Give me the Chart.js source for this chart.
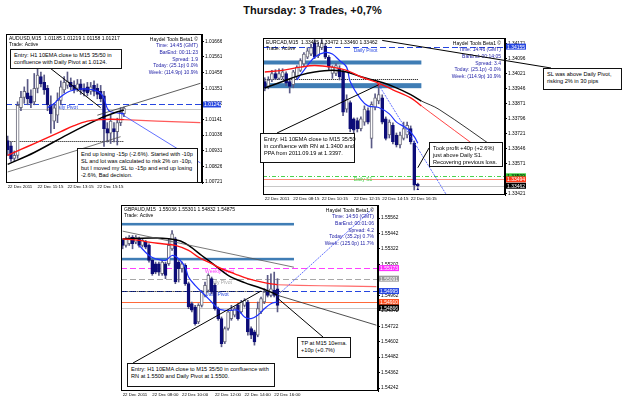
<!DOCTYPE html>
<html>
<head>
<meta charset="utf-8">
<script src="https://cdn.jsdelivr.net/npm/chart.js@4.4.0/dist/chart.umd.min.js"></script>
<style>
  html, body { margin:0; padding:0; background:#fff; }
  body { width:625px; height:400px; position:relative; overflow:hidden; font-family:"Liberation Sans", Arial, sans-serif; }
  #title { position:absolute; left:0; top:4px; width:625px; text-align:center; font:bold 11px "Liberation Sans", Arial, sans-serif; color:#111; }
  canvas.panel { position:absolute; }
  #links { position:absolute; left:0; top:0; z-index:4; pointer-events:none; }
  .note { position:absolute; z-index:5; background:#fff; border:1px solid #111; box-sizing:border-box;
          font:5.6px/7px "Liberation Sans", Arial, sans-serif; color:#000; padding:2px 3px; white-space:nowrap; }
</style>
</head>
<body>
<div id="title">Thursday: 3 Trades, +0,7%</div>

<canvas id="p1" class="panel" width="216" height="160" style="left:6px;top:34px;z-index:1"></canvas>
<canvas id="p2" class="panel" width="268" height="171" style="left:259px;top:34px;z-index:1"></canvas>
<canvas id="p3" class="panel" width="279" height="195" style="left:121px;top:205px;z-index:2"></canvas>
<canvas id="links" width="625" height="400"></canvas>

<div class="note" style="left:10px;top:49px;width:112px;height:20px">Entry: H1 10EMA close to M15 35/50 in<br>confluence with Daily Pivot at 1.0124.</div>
<div class="note" style="left:77px;top:148px;width:121px;height:35px">End up losing -15p (-2.6%). Started with -10p<br>SL and lot was calculated to risk 2% on -10p,<br>but I moved my SL to -15p and end up losing<br>-2.6%, Bad decision.</div>
<div class="note" style="left:260px;top:133px;width:95px;height:30px">Entry: H1 10EMA close to M15 35/50<br>in confluence with RN at 1.3400 and<br>PPA from 2011.09.19 at 1.3397.</div>
<div class="note" style="left:429px;top:142px;width:74px;height:25px">Took profit +40p (+2.6%)<br>just above Daily S1.<br>Recovering previous loss.</div>
<div class="note" style="left:543px;top:68px;width:79px;height:22px">SL was above Daily Pivot,<br>risking 2% in 30 pips</div>
<div class="note" style="left:127px;top:363px;width:148px;height:24px">Entry: H1 10EMA close to M15 35/50 in confluence with<br>RN at 1.5500 and Daily Pivot at 1.5500.</div>
<div class="note" style="left:297px;top:337px;width:54px;height:21px">TP at M15 10ema.<br>+10p (+0.7%)</div>

<script>
// ---------- AUDUSD M15 ----------
const p1Slots = 59;
const p1XTickIdx = [0, 9, 18, 27];
const p1XTickText = ['22 Dec 2011', '22 Dec 11:15', '22 Dec 13:15', '22 Dec 15:15'];
const p1YTicks = [1.00721, 1.00826, 1.00931, 1.01036, 1.01141, 1.01246, 1.01351, 1.01456, 1.01561, 1.01666];
const p1Open  = [1.01000,1.00965,1.00880,1.00900,1.01220,1.01290,1.01320,1.01300,1.01260,1.01350,1.01430,1.01390,1.01350,1.01240,1.01130,1.01170,1.01270,1.01340,1.01370,1.01390,1.01370,1.01350,1.01380,1.01350,1.01360,1.01330,1.01370,1.01350,1.01330,1.01300,1.01080,1.01050,1.01080,1.01060,1.01120,1.01180];
const p1High  = [1.01030,1.00990,1.00930,1.01260,1.01330,1.01360,1.01410,1.01340,1.01450,1.01490,1.01460,1.01440,1.01370,1.01300,1.01250,1.01320,1.01400,1.01430,1.01460,1.01420,1.01400,1.01410,1.01410,1.01380,1.01390,1.01390,1.01400,1.01380,1.01370,1.01330,1.01120,1.01170,1.01120,1.01150,1.01220,1.01225];
const p1Low   = [1.00900,1.00860,1.00860,1.00880,1.01200,1.01250,1.01240,1.01220,1.01240,1.01320,1.01360,1.01310,1.01200,1.01050,1.01080,1.01120,1.01240,1.01320,1.01350,1.01340,1.01320,1.01330,1.01310,1.01300,1.01300,1.01310,1.01300,1.01280,1.01260,1.00960,1.00990,1.00980,1.00990,1.00970,1.01100,1.01160];
const p1Close = [1.00938,1.00877,1.00900,1.01236,1.01290,1.01330,1.01280,1.01250,1.01350,1.01440,1.01380,1.01340,1.01240,1.01180,1.01220,1.01270,1.01360,1.01390,1.01400,1.01360,1.01340,1.01380,1.01340,1.01330,1.01320,1.01360,1.01330,1.01310,1.01280,1.01080,1.01050,1.01130,1.01060,1.01120,1.01190,1.01217];
const p1BlueIdx  = [12,14,16,18,20,22,24,26,28,29,30,31,33,35];
const p1BlueVal  = [1.01220,1.01249,1.01294,1.01324,1.01339,1.01346,1.01346,1.01339,1.01317,1.01283,1.01215,1.01193,1.01185,1.01181];
const p1RedIdx   = [0,4,8,12,16,20,24,28,31,35,45,58];
const p1RedVal   = [1.00900,1.00940,1.00980,1.01020,1.01060,1.01100,1.01130,1.01140,1.01143,1.01140,1.01130,1.01120];
const p1BlackIdx = [0,8,18,28,32,35];
const p1BlackVal = [1.00840,1.00920,1.01040,1.01150,1.01185,1.01205];
const p1TrendUp  = [[27, 1.01170], [58, 1.01384]];
const p1TrendLow = [[0, 1.00789], [34, 1.01026]];
const p1TrendBlue = [[34, 1.01181], [58, 1.00850]];
const p1Pivot = 1.01242, p1PivotGrey = 1.01210, p1StopLine = 1.00997;
const p1Info = ['Haydel Tools Beta1 \u00a9', 'Time: 14:45 (GMT)', 'BarEnd: 00:11:23', 'Spread: 1.9', 'Today: (25.1p) 0.0%', 'Week: (114.9p) 10.9%'];

// ---------- EURCAD M15 ----------
const p2Slots = 68;
const p2XTickIdx = [0, 8, 16, 25, 33, 41];
const p2XTickText = ['22 Dec 2011', '22 Dec 08:15', '22 Dec 10:15', '22 Dec 12:15', '22 Dec 14:15', '22 Dec 16:15'];
const p2YTicks = [1.33421, 1.33496, 1.33571, 1.33646, 1.33721, 1.33796, 1.33871, 1.33946, 1.34021, 1.34096, 1.34171];
const p2Open  = [1.33981,1.33957,1.33989,1.34021,1.33997,1.34005,1.34021,1.33981,1.33965,1.34005,1.34037,1.34069,1.34102,1.34118,1.34174,1.34110,1.34150,1.34158,1.34102,1.34021,1.34021,1.34045,1.34029,1.33844,1.33876,1.33795,1.33787,1.33747,1.33779,1.33836,1.33698,1.33852,1.33884,1.33900,1.33795,1.33715,1.33763,1.33715,1.33666,1.33698,1.33715,1.33747,1.33674,1.33470];
const p2High  = [1.34000,1.34005,1.34037,1.34040,1.34045,1.34045,1.34030,1.33990,1.34037,1.34060,1.34095,1.34125,1.34150,1.34166,1.34190,1.34175,1.34190,1.34170,1.34110,1.34060,1.34070,1.34060,1.34040,1.33915,1.33885,1.33800,1.33800,1.33805,1.33860,1.33850,1.33880,1.33920,1.33973,1.33915,1.33805,1.33790,1.33775,1.33725,1.33730,1.33779,1.33779,1.33760,1.33685,1.33475];
const p2Low   = [1.33935,1.33945,1.33981,1.33990,1.33990,1.33995,1.33960,1.33924,1.33950,1.33990,1.34030,1.34060,1.34095,1.34110,1.34095,1.34100,1.34140,1.34095,1.34040,1.33997,1.34010,1.33989,1.33811,1.33828,1.33731,1.33720,1.33730,1.33735,1.33763,1.33770,1.33650,1.33840,1.33870,1.33770,1.33690,1.33700,1.33670,1.33655,1.33650,1.33690,1.33700,1.33670,1.33441,1.33455];
const p2Close = [1.33949,1.33989,1.34021,1.33997,1.34021,1.34029,1.33973,1.33957,1.34029,1.34053,1.34086,1.34118,1.34134,1.34150,1.34102,1.34158,1.34174,1.34102,1.34053,1.34053,1.34061,1.34005,1.33828,1.33892,1.33747,1.33739,1.33747,1.33795,1.33844,1.33779,1.33868,1.33900,1.33916,1.33779,1.33698,1.33779,1.33682,1.33666,1.33715,1.33747,1.33763,1.33682,1.33465,1.33462];
const p2BlueIdx  = [9,11,14,17,19,21,23,24,27,29,32,35,37,40,42,43];
const p2BlueVal  = [1.33989,1.34037,1.34102,1.34126,1.34118,1.34086,1.34053,1.33981,1.33892,1.33860,1.33852,1.33820,1.33779,1.33747,1.33707,1.33674];
const p2RedIdx   = [0,5,10,14,19,23,27,32,36,41,44,49,66];
const p2RedVal   = [1.34029,1.34037,1.34053,1.34061,1.34053,1.34037,1.34005,1.33973,1.33940,1.33900,1.33860,1.33794,1.33571];
const p2BlackIdx = [0,5,10,14,19,23,27,32,36,41,44,49,66];
const p2BlackVal = [1.33949,1.33981,1.34013,1.34029,1.34037,1.34029,1.34005,1.33981,1.33957,1.33916,1.33884,1.33842,1.33634];
const p2TrendBlue = [[32, 1.33965], [51, 1.33418]];
const p2Entry = [32, 1.33965];
const p2Exit = [43, 1.33445];
const p2BandTop = [1.34066, 1.34086], p2BandLow = [1.33948, 1.33973];
const p2Pivot = 1.34155, p2RoundNum = 1.33992, p2S1 = 1.33509, p2Ask = 1.33494, p2Bid = 1.33462;
const p2Info = ['Haydel Tools Beta1 \u00a9', 'Time: 14:46 (GMT)', 'BarEnd: 00:14:05', 'Spread: 3.4', 'Today: (25.1p) -0.0%', 'Week: (114.9p) 10.9%'];

// ---------- GBPAUD M15 ----------
const p3Slots = 78;
const p3XTickIdx = [0, 9, 18, 28, 37, 46];
const p3XTickText = ['22 Dec 2011', '22 Dec 08:00', '22 Dec 10:00', '22 Dec 12:00', '22 Dec 14:00', '22 Dec 16:00'];
const p3YTicks = [1.54242, 1.54362, 1.54482, 1.54602, 1.54722, 1.54842, 1.54962, 1.55082, 1.55202, 1.55322, 1.55442, 1.55562];
const p3Open  = [1.55388,1.55349,1.55362,1.55413,1.55375,1.55400,1.55349,1.55375,1.55349,1.55233,1.55207,1.55207,1.55129,1.55207,1.55207,1.55323,1.55400,1.55220,1.55168,1.55194,1.55052,1.54897,1.54871,1.54755,1.54884,1.54962,1.55000,1.55091,1.55039,1.54858,1.54781,1.54600,1.54704,1.54781,1.54807,1.54884,1.54833,1.54884,1.54910,1.54704,1.54678,1.54652,1.54833,1.54910,1.54987,1.54962,1.55000,1.55013];
const p3High  = [1.55400,1.55413,1.55426,1.55426,1.55426,1.55413,1.55400,1.55388,1.55362,1.55240,1.55220,1.55220,1.55233,1.55220,1.55400,1.55465,1.55413,1.55233,1.55220,1.55207,1.55065,1.54910,1.54884,1.54897,1.55000,1.55065,1.55129,1.55104,1.55052,1.54871,1.54794,1.54717,1.54846,1.54884,1.54871,1.54897,1.54923,1.54936,1.54923,1.54717,1.54691,1.54910,1.54949,1.55013,1.55117,1.55129,1.55142,1.55091];
const p3Low   = [1.55323,1.55336,1.55349,1.55323,1.55362,1.55336,1.55336,1.55323,1.55220,1.55117,1.55129,1.55117,1.55117,1.55091,1.55194,1.55310,1.55052,1.55065,1.55142,1.55039,1.54858,1.54833,1.54730,1.54742,1.54871,1.54949,1.54987,1.54974,1.54846,1.54768,1.54562,1.54587,1.54691,1.54768,1.54794,1.54768,1.54820,1.54871,1.54652,1.54626,1.54575,1.54640,1.54820,1.54897,1.54949,1.54949,1.54949,1.54833];
const p3Close = [1.55349,1.55400,1.55413,1.55362,1.55413,1.55349,1.55388,1.55336,1.55233,1.55129,1.55142,1.55142,1.55220,1.55117,1.55349,1.55439,1.55065,1.55168,1.55207,1.55052,1.54871,1.54846,1.54742,1.54884,1.54987,1.55039,1.55117,1.54987,1.54858,1.54781,1.54587,1.54704,1.54833,1.54846,1.54858,1.54781,1.54910,1.54923,1.54678,1.54652,1.54600,1.54858,1.54936,1.54987,1.54962,1.55013,1.54962,1.54884];
const p3BlueIdx  = [5,8,10,13,15,17,19,20,22,25,27,29,31,33,35,37,39,41,43,45,47];
const p3BlueVal  = [1.55349,1.55271,1.55246,1.55233,1.55271,1.55246,1.55181,1.55104,1.55039,1.54962,1.54910,1.54858,1.54846,1.54846,1.54846,1.54794,1.54781,1.54807,1.54858,1.54897,1.54910];
const p3RedIdx   = [0,5,8,12,16,20,23,27,30,34,38,43,47,60,77];
const p3RedVal   = [1.55400,1.55388,1.55375,1.55362,1.55349,1.55310,1.55258,1.55207,1.55168,1.55129,1.55091,1.55060,1.55044,1.55036,1.55030];
const p3BlackIdx = [0,10,17,20,24,28,32,37,41,45,47,77];
const p3BlackVal = [1.55400,1.55406,1.55388,1.55349,1.55271,1.55194,1.55117,1.55060,1.55026,1.54987,1.54962,1.54730];
const p3TrendGrey = [[0, 1.55460], [52, 1.55180]];
const p3TrendBlue = [[47, 1.54962], [76, 1.55636]];
const p3BandTop = [1.55504, 1.55524], p3BandLow = [1.55233, 1.55253];
const p3Weekly = 1.55173, p3DailyGrey = 1.55091, p3Pivot = 1.54995, p3Orange = 1.54910, p3Bid = 1.54866;
const p3Info = ['Haydel Tools Beta1 \u00a9', 'Time: 14:50 (GMT)', 'BarEnd: 00:01:06', 'Spread: 4.2', 'Today: (35.2p) 0.7%', 'Week: (125.0p) 11.7%'];

const FONT = '"Liberation Sans", Arial, sans-serif';

function sparse(n, idx, vals){
  const a = new Array(n).fill(null);
  idx.forEach((k, j) => { a[k] = vals[j]; });
  return a;
}
function seg(n, pts){ return sparse(n, pts.map(p => p[0]), pts.map(p => p[1])); }
// split a read series at the last candle: thick part over the candles, thin projection after
function upTo(n, idx, vals, last){
  const k = idx.filter(i => i <= last);
  return sparse(n, k, vals.slice(0, k.length));
}
function from(n, idx, vals, last){
  const s = idx.findIndex(i => i >= last);
  return sparse(n, idx.slice(s), vals.slice(s));
}

function lineSet(data, color, width, extra){
  return Object.assign({ type:'line', data, borderColor:color, borderWidth:width, pointRadius:0,
    tension:0.35, spanGaps:true, order:1 }, extra || {});
}

function decoPlugin(p){
  return {
    id: 'deco' + p.id,
    beforeDatasetsDraw(chart){
      const { ctx, chartArea:a, scales:{ x, y } } = chart;
      ctx.save();
      ctx.beginPath(); ctx.rect(a.left, a.top, a.right - a.left, a.bottom - a.top); ctx.clip();
      p.bands.forEach(b => {
        const x1 = x.getPixelForValue(b.to);
        const yt = y.getPixelForValue(b.range[1]), yb = y.getPixelForValue(b.range[0]);
        ctx.fillStyle = '#3f7db5';
        ctx.fillRect(a.left, yt, x1 - a.left, yb - yt);
      });
      p.levels.forEach(l => {
        const yy = Math.round(y.getPixelForValue(l.value)) + 0.5;
        const x0 = l.from == null ? a.left : x.getPixelForValue(l.from);
        const x1 = l.to == null ? a.right : x.getPixelForValue(l.to);
        ctx.strokeStyle = l.color; ctx.lineWidth = l.width || 1; ctx.setLineDash(l.dash || []);
        ctx.beginPath(); ctx.moveTo(x0, yy); ctx.lineTo(x1, yy); ctx.stroke();
        if (l.text) {
          ctx.setLineDash([]);
          ctx.fillStyle = l.textColor || l.color;
          ctx.font = '5px ' + FONT; ctx.textBaseline = 'top'; ctx.textAlign = 'left';
          ctx.fillText(l.text, x.getPixelForValue(l.textAt), yy + 1);
        }
      });
      ctx.restore();
    },
    afterDraw(chart){
      const { ctx, chartArea:a, scales:{ y } } = chart;
      ctx.save();
      ctx.strokeStyle = '#000'; ctx.lineWidth = 1;
      ctx.strokeRect(a.left + 0.5, a.top + 0.5, a.right - a.left - 1, a.bottom - a.top - 1);
      ctx.font = '5px ' + FONT; ctx.textBaseline = 'top';
      ctx.fillStyle = '#000'; ctx.textAlign = 'left';
      ctx.fillText(p.header, a.left + 3, a.top + 2);
      ctx.fillText('Trade: Active', a.left + 3, a.top + 8);
      ctx.textAlign = 'right';
      p.info.forEach((t, i) => {
        ctx.fillStyle = i === 0 ? '#000' : '#2424a8';
        ctx.fillText(t, a.right - 4, a.top + 3 + i * 6.6);
      });
      p.tags.forEach(t => {
        const yy = y.getPixelForValue(t.value);
        ctx.fillStyle = t.color; ctx.fillRect(a.right + 1, yy - 3, p.axisW - 2, 6);
        ctx.fillStyle = t.textColor || '#fff'; ctx.textAlign = 'left'; ctx.textBaseline = 'middle';
        ctx.fillText(t.value.toFixed(5), a.right + 2, yy + 0.5);
      });
      ctx.restore();
    }
  };
}

function makePanel(p){
  const n = p.slots;
  const labels = new Array(n).fill('');
  p.xTickIdx.forEach((k, j) => { labels[k] = p.xTickText[j]; });
  const up = p.close.map((c, i) => c >= p.open[i]);
  const datasets = [
    { type:'bar', data: p.high.map((h, i) => [p.low[i], h]), backgroundColor:'#5a5a86',
      barThickness:1, grouped:false, order:3 },
    { type:'bar', data: p.open.map((o, i) => [o, p.close[i]]),
      backgroundColor: up.map(u => u ? '#ffffff' : '#0d0d78'),
      borderColor: up.map(u => u ? '#6a6a7a' : '#0d0d78'),
      borderWidth:1, borderSkipped:false, barThickness:3, grouped:false, order:2 },
    ...p.lines
  ];
  return new Chart(document.getElementById(p.id), {
    type:'bar',
    data:{ labels, datasets },
    options:{
      responsive:false, animation:false, events:[],
      layout:{ padding:0 },
      plugins:{ legend:{ display:false }, tooltip:{ enabled:false } },
      scales:{
        x:{ offset:true, grid:{ display:false, drawTicks:false }, border:{ display:false },
            ticks:{ autoSkip:false, maxRotation:0, minRotation:0, align:'start', padding:1, color:'#000',
                    font:{ size:4.4, family:FONT }, callback:(v, i) => labels[i] },
            afterFit: s => { s.height = p.axisH; s.paddingLeft = 0; s.paddingRight = 0; } },
        y:{ position:'right', min:p.min, max:p.max,
            grid:{ drawOnChartArea:false, tickLength:2, color:'#000' }, border:{ color:'#000' },
            ticks:{ autoSkip:false, padding:1, color:'#000', font:{ size:4.8, family:FONT }, callback: v => v.toFixed(5) },
            afterBuildTicks: s => { s.ticks = p.yTicks.map(v => ({ value:v })); },
            afterFit: s => { s.width = p.axisW; s.paddingTop = 0; s.paddingBottom = 0; } }
      }
    },
    plugins:[ decoPlugin(p) ]
  });
}

const c1 = makePanel({
  id:'p1', slots:p1Slots, xTickIdx:p1XTickIdx, xTickText:p1XTickText, yTicks:p1YTicks,
  min:1.00715, max:1.01715, axisW:20, axisH:11,
  open:p1Open, high:p1High, low:p1Low, close:p1Close,
  header:'AUDUSD,M15  1.01185 1.01219 1.01158 1.01217', info:p1Info,
  lines:[
    lineSet(upTo(p1Slots, p1RedIdx, p1RedVal, 35), '#ff1414', 1.4),
    lineSet(from(p1Slots, p1RedIdx, p1RedVal, 35), '#ff5a5a', 1.2),
    lineSet(sparse(p1Slots, p1BlackIdx, p1BlackVal), '#000', 1.5),
    lineSet(sparse(p1Slots, p1BlueIdx, p1BlueVal), '#1e32ff', 1.2),
    lineSet(seg(p1Slots, p1TrendUp), '#333', 0.8, { tension:0, order:0 }),
    lineSet(seg(p1Slots, p1TrendLow), '#555', 0.8, { tension:0, order:0 }),
    lineSet(seg(p1Slots, p1TrendBlue), '#3a4cff', 0.8, { tension:0, order:0 })
  ],
  bands:[],
  levels:[
    { value:p1PivotGrey, color:'#c8c8c8' },
    { value:p1Pivot, color:'#2646e0', width:1.2, dash:[6, 3], text:'Daily Pivot', textAt:14 },
    { value:p1StopLine, color:'#000', dash:[1, 1], from:0, to:35 }
  ],
  tags:[ { value:p1Pivot, color:'#2646e0' } ]
});

const c2 = makePanel({
  id:'p2', slots:p2Slots, xTickIdx:p2XTickIdx, xTickText:p2XTickText, yTicks:p2YTicks,
  min:1.33416, max:1.34198, axisW:22, axisH:10,
  open:p2Open, high:p2High, low:p2Low, close:p2Close,
  header:'EURCAD,M15  1.33465 1.33472 1.33460 1.33462', info:p2Info,
  lines:[
    lineSet(upTo(p2Slots, p2RedIdx, p2RedVal, 44), '#ff1414', 1.4),
    lineSet(from(p2Slots, p2RedIdx, p2RedVal, 44), '#ff1414', 0.8),
    lineSet(upTo(p2Slots, p2BlackIdx, p2BlackVal, 44), '#000', 1.5),
    lineSet(from(p2Slots, p2BlackIdx, p2BlackVal, 44), '#000', 0.8),
    lineSet(sparse(p2Slots, p2BlueIdx, p2BlueVal), '#1e32ff', 1.2),
    lineSet(seg(p2Slots, p2TrendBlue), '#3a4cff', 0.8, { tension:0, order:0, borderDash:[2, 1] }),
    lineSet(seg(p2Slots, [p2Entry]), '#ff2020', 0, { pointRadius:1.8, pointBackgroundColor:'#ff3030', pointBorderWidth:0, showLine:false, order:0 }),
    lineSet(seg(p2Slots, [p2Exit]), '#0d0d78', 0, { pointRadius:1.6, pointStyle:'triangle', pointBackgroundColor:'#0d0d78', pointBorderWidth:0, showLine:false, order:0 })
  ],
  bands:[ { range:p2BandTop, to:44 }, { range:p2BandLow, to:44 } ],
  levels:[
    { value:p2Bid, color:'#c8c8c8' },
    { value:p2Ask, color:'#ff8c78' },
    { value:p2S1, color:'#4cd24c', dash:[4, 2, 1, 2], text:'Daily S1', textAt:25 },
    { value:p2RoundNum, color:'#000', dash:[1, 1], from:0, to:43 },
    { value:p2Pivot, color:'#2646e0', width:1.2, dash:[6, 3], text:'Daily Pivot', textAt:25 }
  ],
  tags:[
    { value:p2Pivot, color:'#2646e0' },
    { value:p2S1, color:'#38d038', textColor:'#000' },
    { value:p2Ask, color:'#ff3a1a' },
    { value:p2Bid, color:'#000' }
  ]
});

const c3 = makePanel({
  id:'p3', slots:p3Slots, xTickIdx:p3XTickIdx, xTickText:p3XTickText, yTicks:p3YTicks,
  min:1.54219, max:1.55663, axisW:22, axisH:9,
  open:p3Open, high:p3High, low:p3Low, close:p3Close,
  header:'GBPAUD,M15  1.55036 1.55301 1.54832 1.54875', info:p3Info,
  lines:[
    lineSet(upTo(p3Slots, p3RedIdx, p3RedVal, 47), '#ff1414', 1.4),
    lineSet(from(p3Slots, p3RedIdx, p3RedVal, 47), '#ff6a6a', 1.2),
    lineSet(upTo(p3Slots, p3BlackIdx, p3BlackVal, 47), '#000', 1.5),
    lineSet(from(p3Slots, p3BlackIdx, p3BlackVal, 47), '#222', 0.8),
    lineSet(sparse(p3Slots, p3BlueIdx, p3BlueVal), '#1e32ff', 1.2),
    lineSet(seg(p3Slots, p3TrendGrey), '#555', 0.8, { tension:0, order:0 }),
    lineSet(seg(p3Slots, p3TrendBlue), '#3a4cff', 0.8, { tension:0, order:0, borderDash:[2, 1] })
  ],
  bands:[ { range:p3BandTop, to:52 }, { range:p3BandLow, to:52 } ],
  levels:[
    { value:p3Bid, color:'#c8c8c8' },
    { value:p3Orange, color:'#ff6a3a', width:1.2 },
    { value:p3Pivot, color:'#2646e0', width:1.2, dash:[6, 3], text:'Daily Pivot', textAt:25 },
    { value:p3Pivot, color:'#000', dash:[1, 1], from:0, to:50 },
    { value:p3DailyGrey, color:'#a8a8a8', width:1.2, dash:[6, 3], text:'Daily Pivot', textAt:26 },
    { value:p3Weekly, color:'#ff40ff', width:1.2, dash:[6, 3], text:'Weekly Pivot', textAt:25 }
  ],
  tags:[
    { value:p3Weekly, color:'#ff30ff' },
    { value:p3DailyGrey, color:'#9a9a9a' },
    { value:p3Pivot, color:'#2646e0' },
    { value:p3Orange, color:'#ff5020' },
    { value:p3Bid, color:'#000' }
  ]
});

// leader lines from the notes to the chart points
function at(chart, id, idx, price){
  const el = document.getElementById(id);
  return [el.offsetLeft + chart.scales.x.getPixelForValue(idx), el.offsetTop + chart.scales.y.getPixelForValue(price)];
}
const links = [
  [[50, 68], at(c1, 'p1', 28, 1.01220)],
  [[277, 133], at(c2, 'p2', 32, 1.33965)],
  [[551, 68], at(c2, 'p2', 33, 1.34186)],
  [[429, 148], at(c2, 'p2', 43, 1.33552)],
  [[133, 363], at(c3, 'p3', 42, 1.54995)],
  [[323, 337], at(c3, 'p3', 47, 1.54940)]
];
const lc = document.getElementById('links').getContext('2d');
lc.strokeStyle = '#000'; lc.lineWidth = 1;
links.forEach(([a, b]) => { lc.beginPath(); lc.moveTo(a[0], a[1]); lc.lineTo(b[0], b[1]); lc.stroke(); });
</script>
</body>
</html>
